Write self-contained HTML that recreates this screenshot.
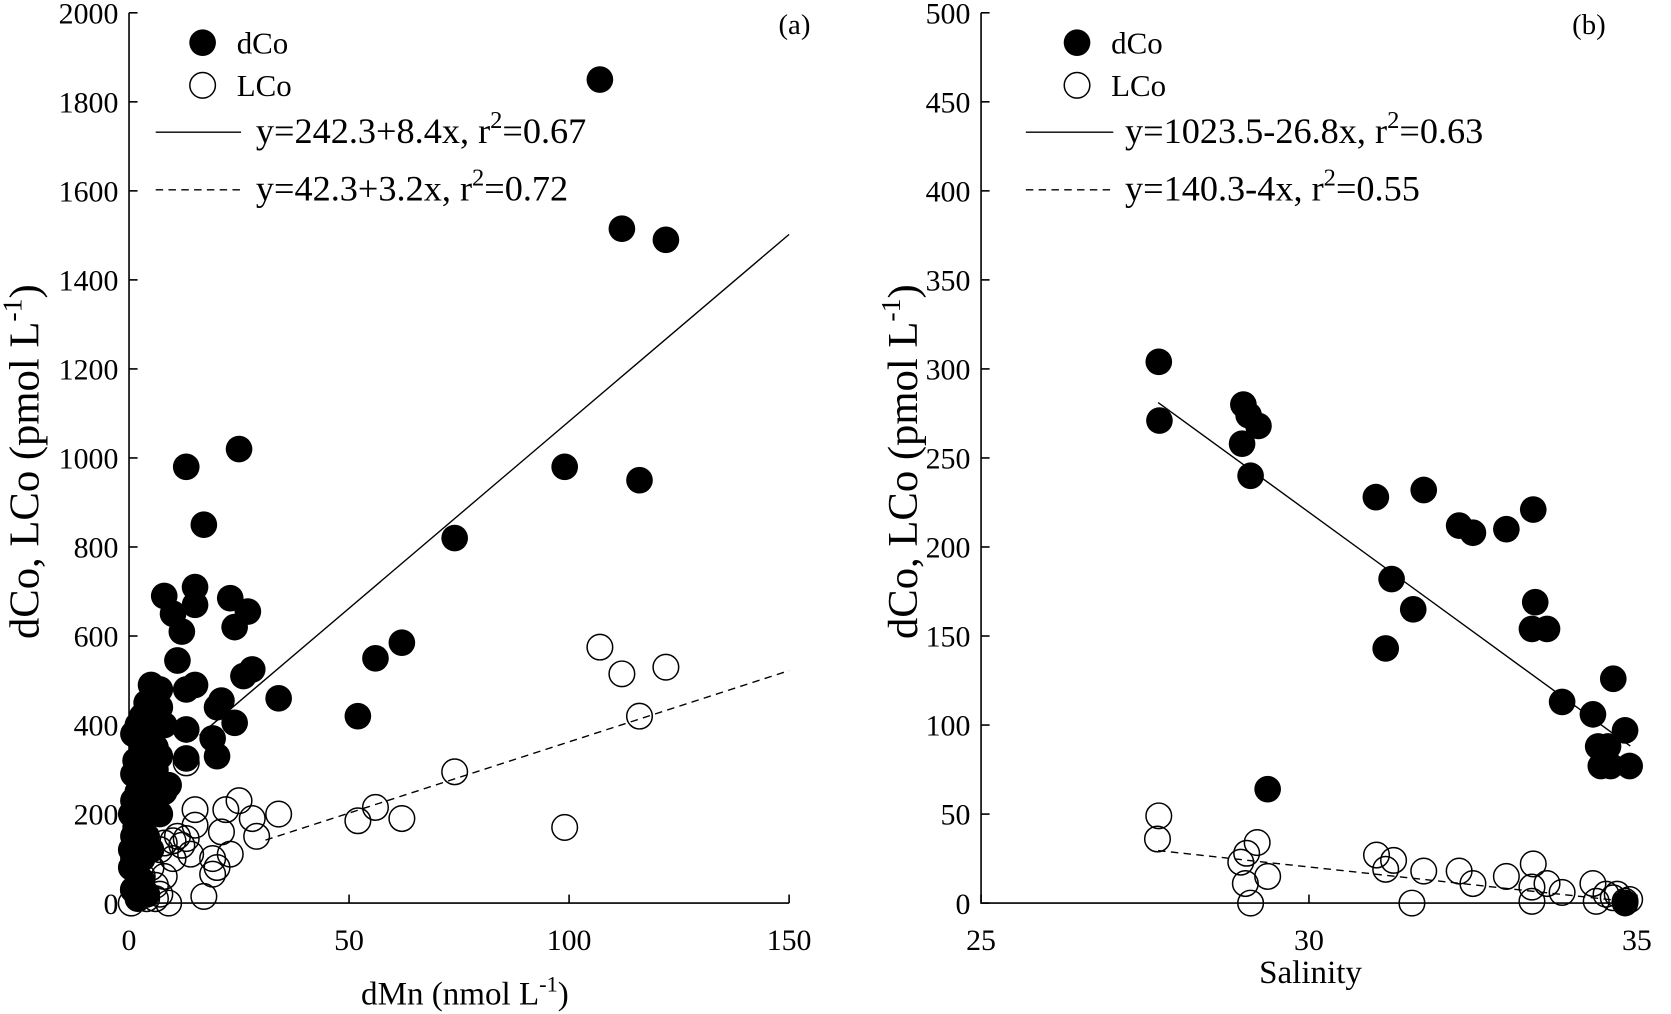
<!DOCTYPE html>
<html><head><meta charset="utf-8"><style>
body{margin:0;background:#fff}
svg{display:block}
svg text{font-family:"Liberation Serif",serif;fill:#000}
</style></head><body>
<svg id="chart" width="1671" height="1014" viewBox="0 0 1567 951" preserveAspectRatio="none" xmlns="http://www.w3.org/2000/svg"></svg>
<script>
// Panel (a) data
const aDMnD=[107,112,122,99,116,74,62,56,52,34,25,13,17,15,15,8,10,12,11,23,27,24,28,26,13,15,21,20,19,20,24,13,13,8,5,7,9,6,4,3,2,1,1,0.5,1,2,3,4,5,6,7,8,5,4,3,2,1,1,2,3,4,6,7,5,3,2,4,0.5,1.5,2.5,3.5,6,1,2,0.5,1.5,3,5,7];
const aDCo=[1850,1515,1490,980,950,820,585,550,420,460,1020,980,850,710,670,690,650,610,545,685,655,620,525,510,480,490,455,440,370,330,405,390,325,400,490,480,265,300,450,420,400,380,290,200,150,250,350,300,420,350,330,250,200,150,100,60,30,100,180,220,380,250,200,120,50,10,20,120,320,280,260,400,230,300,80,170,160,280,440];
const aDMnL=[107,112,122,116,99,74,62,56,52,34,25,28,29,22,21,23,19,20,19,17,15,15,13,12,14,13,10,8,7,9,5,6,4,3,2,1,0.5,4,6,8,10,11,2,3,7];
const aLCo=[575,515,530,420,170,295,190,215,185,200,230,190,150,210,160,110,100,80,65,15,210,175,145,130,110,315,140,135,120,0,80,40,20,60,100,30,0,10,10,60,100,150,150,120,20];
const aFit1=[242.3,8.4], aFit1X=[16,150];
const aFit2=[42.3,3.2], aFit2X=[31,150];
const aYTicks=[0,200,400,600,800,1000,1200,1400,1600,1800,2000];
const aXTicks=[0,50,100,150];
// Panel (b) data
const bSalD=[27.71,27.72,29.0,29.08,29.23,28.98,29.11,31.02,31.75,32.29,32.5,33.01,33.42,33.45,33.4,33.63,31.26,31.59,31.17,29.37,33.86,34.33,34.64,34.82,34.41,34.56,34.45,34.6,34.89,34.82];
const bDCo=[304,271,280,274,268,258,240,228,232,212,208,210,221,169,154,154,182,165,143,64,113,106,126,97,88,88,77,77,77,0];
const bSalL=[27.71,27.69,28.96,29.05,29.21,29.03,29.11,29.37,31.03,31.29,31.17,31.75,31.57,32.29,32.5,33.01,33.42,33.4,33.4,33.63,33.86,34.33,34.38,34.53,34.64,34.7,34.82,34.89];
const bLCo=[49,36,23,28,34,11,0,15,27,24,19,18,0,18,11,15,22,9,1,11,6,11,1,5,3,5,1,2];
const bFit1=[1023.5,-26.8], bFit1X=[27.7,34.9];
const bFit2=[140.3,-4], bFit2X=[27.7,34.9];
const bYTicks=[0,50,100,150,200,250,300,350,400,450,500];
const bXTicks=[25,30,35];

const NS="http://www.w3.org/2000/svg";
const svg=document.getElementById('chart');
function el(t,a,p){const e=document.createElementNS(NS,t);for(const k in a)e.setAttribute(k,a[k]);(p||svg).appendChild(e);return e;}

function panel(cfg){
  const g=el('g',{});
  
  
  const sx=v=>cfg.x0+(v-cfg.xmin)/(cfg.xmax-cfg.xmin)*(cfg.x1-cfg.x0);
  const sy=v=>cfg.y0-(v-cfg.ymin)/(cfg.ymax-cfg.ymin)*(cfg.y0-cfg.y1);
  const ax=el('path',{d:`M${cfg.x0},${cfg.y1}V${cfg.y0}H${cfg.x1}`,stroke:'#000','stroke-width':1.5,fill:'none'},g);
  
  
  cfg.yt.forEach(v=>{
    const y=sy(v);
    el('line',{x1:cfg.x0,x2:cfg.x0+8,y1:y,y2:y,stroke:'#000','stroke-width':1.5},g);
    const t=el('text',{x:cfg.x0-10,y:y+10,'font-size':28,'text-anchor':'end'},g);
    t.textContent=v;
    
    
  });
  cfg.xt.forEach(v=>{
    const x=sx(v);
    el('line',{x1:x,x2:x,y1:cfg.y0,y2:cfg.y0-8,stroke:'#000','stroke-width':1.5},g);
    const t=el('text',{x:x,y:cfg.y0+44,'font-size':28,'text-anchor':'middle'},g);
    t.textContent=v;
    
    
  });
  [[cfg.f1,cfg.f1x,null],[cfg.f2,cfg.f2x,'7,5']].forEach(([f,xr,d],i)=>{
    const l=el('line',{x1:sx(xr[0]),y1:sy(f[0]+f[1]*xr[0]),x2:sx(xr[1]),y2:sy(f[0]+f[1]*xr[1]),stroke:'#000','stroke-width':1.3},g);
    if(d)l.setAttribute('stroke-dasharray',d);
    
    
  });
  cfg.dx.forEach((v,i)=>{
    const c=el('circle',{cx:sx(v),cy:sy(cfg.dy[i]),r:12.5,fill:'#000'},g);
    
    
  });
  cfg.lx.forEach((v,i)=>{
    const c=el('circle',{cx:sx(v),cy:sy(cfg.ly[i]),r:12,fill:'none',stroke:'#000','stroke-width':1.4},g);
    
    
  });
  const L=cfg.leg;
  const m1=el('circle',{cx:L.mx,cy:40,r:12.5,fill:'#000'},g);
  
  
  const m2=el('circle',{cx:L.mx,cy:80,r:12,fill:'none',stroke:'#000','stroke-width':1.4},g);
  
  
  const t1=el('text',{x:L.mx+32,y:50,'font-size':29},g);t1.textContent='dCo';
  
  
  const t2=el('text',{x:L.mx+32,y:90,'font-size':29},g);t2.textContent='LCo';
  
  
  const l1=el('line',{x1:L.lx0,x2:L.lx1,y1:124,y2:124,stroke:'#000','stroke-width':1.3},g);
  
  
  const l2=el('line',{x1:L.lx0,x2:L.lx1,y1:178,y2:178,stroke:'#000','stroke-width':1.3,'stroke-dasharray':'7,5'},g);
  
  
  [[L.e1,L.r1,134],[L.e2,L.r2,188]].forEach(([e,r,y],i)=>{
    const t=el('text',{x:L.tx,y:y,'font-size':34},g);
    t.innerHTML=`${e}, r<tspan dy="-14" font-size="23">2</tspan><tspan dy="14">=${r}</tspan>`;
    
    
  });
  const pl=el('text',{x:cfg.lab[0],y:32,'font-size':27,'text-anchor':'middle'},g);pl.textContent=cfg.lab[1];
  
  
  const yt=el('text',{x:0,y:0,'font-size':40,'text-anchor':'middle',transform:`translate(${cfg.ytx},433) rotate(-90)`},g);
  yt.innerHTML='dCo, LCo (pmol L<tspan dy="-16" font-size="26">-1</tspan><tspan dy="16">)</tspan>';
  
  
  const xt=el('text',{x:cfg.xtt[0],y:cfg.xtt[1],'font-size':31,'text-anchor':'middle'},g);
  xt.innerHTML=cfg.xtitle;
  
  
}

panel({name:'panel-a',x0:121,x1:740,y0:847,y1:12,xmin:0,xmax:150,ymin:0,ymax:2000,yt:aYTicks,xt:aXTicks,
  f1:aFit1,f1x:aFit1X,f2:aFit2,f2x:aFit2X,dx:aDMnD,dy:aDCo,lx:aDMnL,ly:aLCo,
  leg:{mx:190,lx0:146,lx1:226,tx:240,e1:'y=242.3+8.4x',r1:'0.67',e2:'y=42.3+3.2x',r2:'0.72'},
  lab:[745,'(a)'],ytx:36,xtt:[436,942],xtitle:'dMn (nmol L<tspan dy="-12" font-size="21">-1</tspan><tspan dy="12">)</tspan>'});
panel({name:'panel-b',x0:920,x1:1535,y0:847,y1:12,xmin:25,xmax:35,ymin:0,ymax:500,yt:bYTicks,xt:bXTicks,
  f1:bFit1,f1x:bFit1X,f2:bFit2,f2x:bFit2X,dx:bSalD,dy:bDCo,lx:bSalL,ly:bLCo,
  leg:{mx:1010,lx0:962,lx1:1044,tx:1055,e1:'y=1023.5-26.8x',r1:'0.63',e2:'y=140.3-4x',r2:'0.55'},
  lab:[1490,'(b)'],ytx:860,xtt:[1229,922],xtitle:'Salinity'});
</script>
</body></html>
